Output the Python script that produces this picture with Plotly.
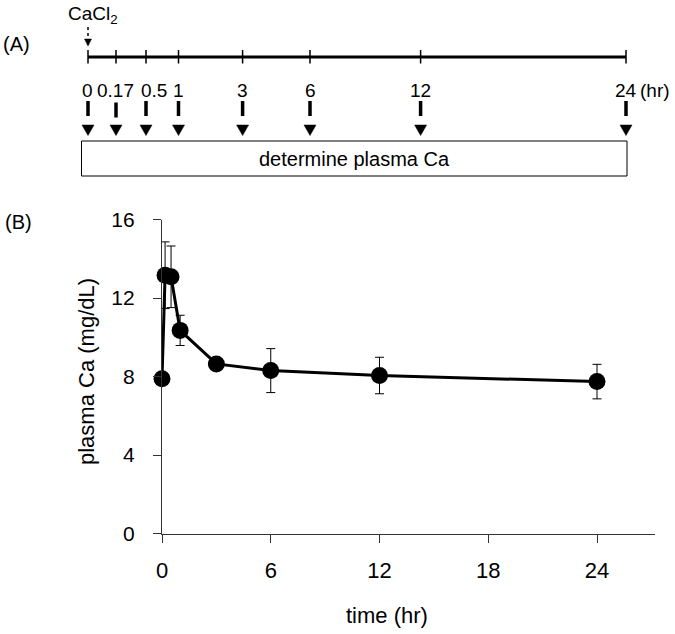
import plotly.graph_objects as go

# ---------------- data ----------------
time_hr = [0, 0.17, 0.5, 1, 3, 6, 12, 24]
ca_mean = [7.88, 13.16, 13.08, 10.35, 8.64, 8.30, 8.05, 7.74]
ca_sd = [0.2, 1.7, 1.57, 0.77, 0.25, 1.12, 0.93, 0.88]

x_ticks = [0, 6, 12, 18, 24]
y_ticks = [0, 4, 8, 12, 16]

# schematic (panel A) sampling-time labels
sample_labels = ["0", "0.17", "0.5", "1", "3", "6", "12", "24"]

# ---------------- layout helpers ----------------
W, H = 675, 634
FONT = "Liberation Sans, Arial, sans-serif"


def PX(x):
    return x / W


def PY(y):
    return 1 - y / H


# schematic positions of panel A (pixels, layout only)
sched_px = [88, 116, 146, 178.5, 242.6, 310, 420.6, 626]
label_px = [88, 115.6, 154, 178.5, 242.6, 310, 420.6, 626]

fig = go.Figure()

fig.add_trace(go.Scatter(
    x=time_hr, y=ca_mean,
    mode="lines+markers",
    line=dict(color="black", width=3),
    marker=dict(color="black", size=17),
    error_y=dict(type="data", array=ca_sd, visible=True,
                 color="black", thickness=1, width=4.5),
    cliponaxis=False,
    showlegend=False,
    hoverinfo="x+y",
))

shapes = []
annotations = []

# ---- Panel A: timeline ----
LINE_Y = 57
shapes.append(dict(type="line", xref="paper", yref="paper",
                   x0=PX(sched_px[0]), x1=PX(sched_px[-1]),
                   y0=PY(LINE_Y), y1=PY(LINE_Y),
                   line=dict(color="black", width=2.8)))
for i, xp in enumerate(sched_px):
    shapes.append(dict(type="line", xref="paper", yref="paper",
                       x0=PX(xp), x1=PX(xp), y0=PY(50), y1=PY(63.5),
                       line=dict(color="black", width=1.5)))
    off = 1.5 if i == 1 else 0
    # dash (shaft)
    shapes.append(dict(type="line", xref="paper", yref="paper",
                       x0=PX(xp), x1=PX(xp), y0=PY(101 + off), y1=PY(116 + off),
                       line=dict(color="black", width=3.5)))
    # arrow head
    shapes.append(dict(type="path", xref="paper", yref="paper",
                       path=f"M {PX(xp-6)},{PY(125)} L {PX(xp+6)},{PY(125)} L {PX(xp)},{PY(135.5)} Z",
                       fillcolor="black", line=dict(color="black", width=0.5)))
    annotations.append(dict(xref="paper", yref="paper", x=PX(label_px[i]), y=PY(90),
                            text=sample_labels[i], showarrow=False,
                            xanchor="center", yanchor="middle",
                            font=dict(size=19, color="black", family=FONT)))
annotations.append(dict(xref="paper", yref="paper", x=PX(655), y=PY(90),
                        text="(hr)", showarrow=False, xanchor="center", yanchor="middle",
                        font=dict(size=19, color="black", family=FONT)))

# box
shapes.append(dict(type="rect", xref="paper", yref="paper",
                   x0=PX(81.5), x1=PX(627), y0=PY(141), y1=PY(176),
                   line=dict(color="black", width=1), fillcolor="white"))
annotations.append(dict(xref="paper", yref="paper", x=PX(354), y=PY(159),
                        text="determine plasma Ca", showarrow=False,
                        xanchor="center", yanchor="middle",
                        font=dict(size=20, color="black", family=FONT)))

# CaCl2 + dotted arrow
annotations.append(dict(xref="paper", yref="paper", x=PX(93), y=PY(15),
                        text="CaCl<sub>2</sub>", showarrow=False,
                        xanchor="center", yanchor="middle",
                        font=dict(size=19, color="black", family=FONT)))
shapes.append(dict(type="line", xref="paper", yref="paper",
                   x0=PX(88), x1=PX(88), y0=PY(27), y1=PY(40),
                   line=dict(color="black", width=1.5, dash="dot")))
shapes.append(dict(type="path", xref="paper", yref="paper",
                   path=f"M {PX(84.5)},{PY(39)} L {PX(91.5)},{PY(39)} L {PX(88)},{PY(46)} Z",
                   fillcolor="black", line=dict(color="black", width=0.5)))

annotations.append(dict(xref="paper", yref="paper", x=PX(16), y=PY(44),
                        text="(A)", showarrow=False, xanchor="center", yanchor="middle",
                        font=dict(size=20, color="black", family=FONT)))
annotations.append(dict(xref="paper", yref="paper", x=PX(18), y=PY(222),
                        text="(B)", showarrow=False, xanchor="center", yanchor="middle",
                        font=dict(size=20, color="black", family=FONT)))

# axis titles
annotations.append(dict(xref="paper", yref="paper", x=PX(86), y=PY(372),
                        text="plasma Ca (mg/dL)", showarrow=False, textangle=-90,
                        xanchor="center", yanchor="middle",
                        font=dict(size=22, color="black", family=FONT)))
annotations.append(dict(xref="paper", yref="paper", x=PX(387), y=PY(615),
                        text="time (hr)", showarrow=False,
                        xanchor="center", yanchor="middle",
                        font=dict(size=22, color="black", family=FONT)))

fig.update_layout(
    width=W, height=H,
    margin=dict(l=0, r=0, t=0, b=0),
    paper_bgcolor="white", plot_bgcolor="white",
    font=dict(family=FONT, color="black"),
    showlegend=False,
    shapes=shapes,
    annotations=annotations,
    xaxis=dict(domain=[PX(162), PX(655)], range=[0, 27.2],
               tickvals=x_ticks, ticktext=[str(v) for v in x_ticks],
               showline=True, linecolor="#333", linewidth=1.3,
               ticks="outside", ticklen=8, tickwidth=1.3, tickcolor="#333",
               showgrid=False, zeroline=False, automargin=False,
               tickfont=dict(size=22, family=FONT, color="black"),
               ticklabelstandoff=9),
    yaxis=dict(domain=[PY(533.5), PY(219.5)], range=[0, 16],
               tickvals=y_ticks, ticktext=[str(v) for v in y_ticks],
               showline=True, linecolor="#333", linewidth=1.3,
               ticks="outside", ticklen=8, tickwidth=1.3, tickcolor="#333",
               showgrid=False, zeroline=False, automargin=False,
               tickfont=dict(size=21, family=FONT, color="black"),
               ticklabelstandoff=14),
)

fig.write_html("out.html",
               config={"displayModeBar": False},
               post_script="document.body.style.margin='0px';document.body.style.overflow='hidden';")
